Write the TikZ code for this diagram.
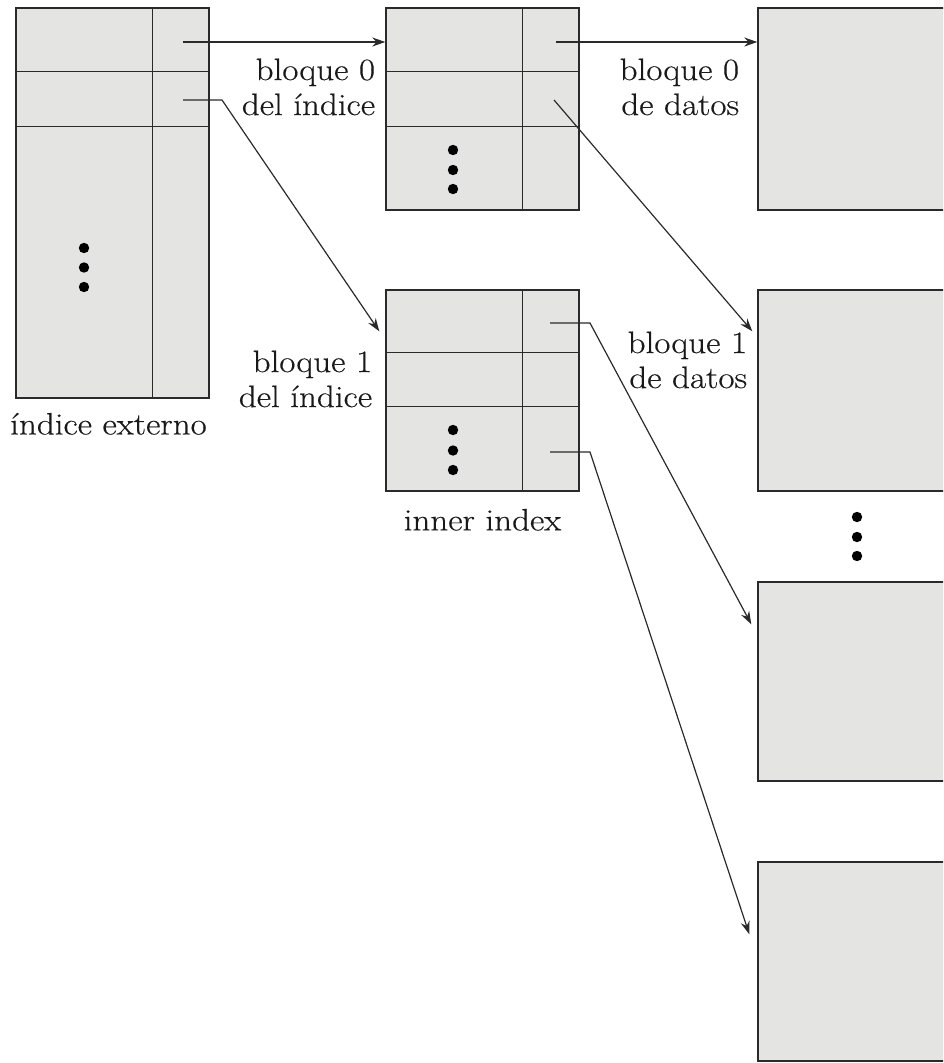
\documentclass[tikz,border=0pt]{standalone}
\usepackage{fontspec}
\setmainfont{Latin Modern Roman}[FakeStretch=1.13,FakeBold=0.4]
\usetikzlibrary{positioning,arrows.meta}
\definecolor{blockgray}{HTML}{E4E4E2}
\definecolor{inkgray}{HTML}{2A2A2A}
\tikzset{
  block/.style = {draw=inkgray, fill=blockgray, line width=1.4pt, inner sep=0pt, rectangle},
  cell/.style = {draw=inkgray, line width=1.4pt},
  ptr/.style = {draw=inkgray, line width=1.2pt, -{Stealth[length=13pt,width=9pt]}},
  lbl/.style = {inner sep=0pt, text=black!90, font=\fontsize{31}{35}\selectfont},
  dot/.style = {fill=black}
}
\begin{document}
\begin{tikzpicture}[x=1pt,y=-1pt]
            \useasboundingbox (0,0) rectangle (943,1063);
            \clip (0,0) rectangle (943,1063);

            % outer index
            \node [block, minimum width=193pt, minimum height=390pt] (outer) at (112.5,203) {};
            \draw [cell] ([yshift=-64pt]outer.north west) -- ([yshift=-64pt]outer.north east);
            \draw [cell] ([yshift=-119pt]outer.north west) -- ([yshift=-119pt]outer.north east);
            \draw [cell] ([xshift=137pt]outer.north west) -- ([xshift=137pt]outer.south west);
            \node [lbl, below=14pt of outer.south, xshift=-4pt] (outerlbl) {índice externo};

            % inner index, block 0
            \node [block, minimum width=193pt, minimum height=202pt] (inner0) at (482.5,109) {};
            \draw [cell] ([yshift=-64pt]inner0.north west) -- ([yshift=-64pt]inner0.north east);
            \draw [cell] ([yshift=-119pt]inner0.north west) -- ([yshift=-119pt]inner0.north east);
            \draw [cell] ([xshift=137pt]inner0.north west) -- ([xshift=137pt]inner0.south west);
            \node [lbl, align=right, below left=51pt and 10pt of inner0.north west] (inner0lbl) {bloque 0\\del índice};

            % inner index, block 1
            \node [block, minimum width=193pt, minimum height=201pt] (inner1) at (482.5,390.5) {};
            \draw [cell] ([yshift=-63pt]inner1.north west) -- ([yshift=-63pt]inner1.north east);
            \draw [cell] ([yshift=-117pt]inner1.north west) -- ([yshift=-117pt]inner1.north east);
            \draw [cell] ([xshift=137pt]inner1.north west) -- ([xshift=137pt]inner1.south west);
            \node [lbl, align=right, below left=61pt and 13pt of inner1.north west] (inner1lbl) {bloque 1\\del índice};
            \node [lbl, below=17pt of inner1.south] (innerlbl) {inner index};

            % data blocks
            \node [block, minimum width=202pt, minimum height=202pt] (data0) at (859,109) {};
            \node [block, minimum width=202pt, minimum height=201pt] (data1) at (859,390.5) {};
            \node [block, minimum width=202pt, minimum height=199pt] (data2) at (859,681.5) {};
            \node [block, minimum width=202pt, minimum height=199pt] (data3) at (859,961.5) {};
            \node [lbl, align=right, below left=51pt and 18pt of data0.north west] (data0lbl) {bloque 0\\de datos};
            \node [lbl, align=right, below left=42pt and 10pt of data1.north west] (data1lbl) {bloque 1\\de datos};

            % dots
            \fill [dot] (84,248) circle (5.2);
            \fill [dot] (84,267.5) circle (5.2);
            \fill [dot] (84,287) circle (5.2);
            \fill [dot] (453,150) circle (5.2);
            \fill [dot] (453,170) circle (5.2);
            \fill [dot] (453,189) circle (5.2);
            \fill [dot] (453,430) circle (5.2);
            \fill [dot] (453,450.5) circle (5.2);
            \fill [dot] (453,470) circle (5.2);
            \fill [dot] (857,517) circle (5.2);
            \fill [dot] (857,537) circle (5.2);
            \fill [dot] (857,556) circle (5.2);

            % pointers
            \coordinate (outer1) at (183,42);
            \coordinate (outer2) at (183,100);
            \coordinate (inner01) at (556,42);
            \coordinate (inner02) at (554,100);
            \coordinate (inner11) at (550,323);
            \coordinate (inner12) at (550,452);

            \draw [ptr] (outer1) -- (outer1 -| inner0.west);
            \draw [ptr] (outer2) -- ++(39,0) -- ([shift={(-6,42)}]inner1.north west);
            \draw [ptr] (inner01) -- (inner01 -| data0.west);
            \draw [ptr] (inner02) -- ([shift={(-5,42)}]data1.north west);
            \draw [ptr] (inner11) -- ++(40,0) -- ([shift={(-6,43)}]data2.north west);
            \draw [ptr] (inner12) -- ++(40,0) -- ([shift={(-8,73)}]data3.north west);
        \end{tikzpicture}
\end{document}
